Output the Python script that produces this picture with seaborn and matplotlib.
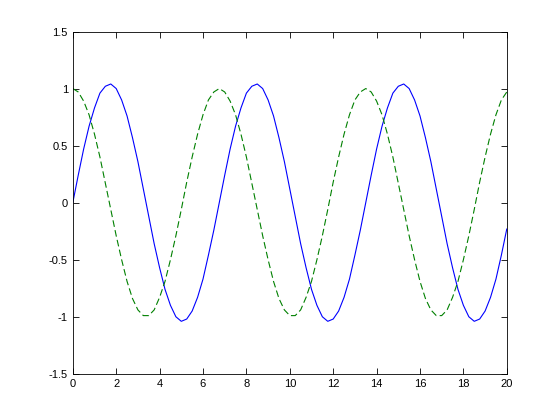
import numpy as np
import pandas as pd
import matplotlib
matplotlib.use("Agg")
import matplotlib.pyplot as plt
import seaborn as sns

# sample positions (step 0.25 from 0 to 20)
t = [i * 0.25 for i in range(81)]

# solid blue series
y_sin = [0.00, 0.24, 0.47, 0.67, 0.83, 0.96, 1.02, 1.04, 1.00, 0.90, 0.76, 0.57, 0.36, 0.12,
         -0.12, -0.36, -0.57, -0.76, -0.90, -1.00, -1.04, -1.02, -0.95, -0.83, -0.67, -0.46, -0.24,
         0.00, 0.24, 0.47, 0.67, 0.83, 0.96, 1.02, 1.04, 1.00, 0.90, 0.76, 0.57, 0.36, 0.12,
         -0.12, -0.36, -0.57, -0.76, -0.90, -1.00, -1.04, -1.02, -0.95, -0.83, -0.67, -0.46, -0.24,
         0.00, 0.24, 0.47, 0.67, 0.83, 0.96, 1.02, 1.04, 1.00, 0.90, 0.76, 0.57, 0.36, 0.12,
         -0.12, -0.36, -0.57, -0.76, -0.90, -1.00, -1.04, -1.02, -0.95, -0.83, -0.67, -0.46, -0.23]

# dashed green series
y_cos = [1.00, 0.97, 0.89, 0.77, 0.60, 0.40, 0.17, -0.06, -0.29, -0.50, -0.69, -0.84, -0.94, -0.99,
         -0.99, -0.94, -0.83, -0.69, -0.50, -0.29, -0.06, 0.18, 0.40, 0.60, 0.77, 0.90, 0.97,
         1.00, 0.97, 0.89, 0.77, 0.60, 0.40, 0.17, -0.06, -0.29, -0.50, -0.69, -0.84, -0.94, -0.99,
         -0.99, -0.94, -0.83, -0.69, -0.50, -0.29, -0.06, 0.18, 0.40, 0.60, 0.77, 0.90, 0.97,
         1.00, 0.97, 0.89, 0.77, 0.60, 0.40, 0.17, -0.06, -0.29, -0.50, -0.69, -0.84, -0.94, -0.99,
         -0.99, -0.94, -0.83, -0.69, -0.50, -0.29, -0.06, 0.18, 0.40, 0.60, 0.77, 0.90, 0.97]

x_ticks = [0, 2, 4, 6, 8, 10, 12, 14, 16, 18, 20]
y_ticks = [-1.5, -1, -0.5, 0, 0.5, 1, 1.5]
y_tick_labels = ["-1.5", "-1", "-0.5", "0", "0.5", "1", "1.5"]

sns.set_style("ticks")
plt.rcParams["font.family"] = ["Liberation Sans", "DejaVu Sans"]
plt.rcParams["axes.unicode_minus"] = False

df = pd.DataFrame({"t": t, "sin": y_sin, "cos": y_cos})

fig = plt.figure(figsize=(5.6, 4.2), dpi=100)
ax = fig.add_axes([0.13, 0.11, 0.775, 0.815])

sns.lineplot(data=df, x="t", y="sin", ax=ax, color=(0, 0, 1), linewidth=0.8)
sns.lineplot(data=df, x="t", y="cos", ax=ax, color=(0, 0.5, 0), linewidth=0.8,
             linestyle=(0, (6, 3)))

ax.set_xlim(0, 20)
ax.set_ylim(-1.5, 1.5)
ax.set_xticks(x_ticks)
ax.set_xticklabels([str(v) for v in x_ticks])
ax.set_yticks(y_ticks)
ax.set_yticklabels(y_tick_labels)
ax.set_xlabel("")
ax.set_ylabel("")
ax.tick_params(direction="in", top=True, right=True, length=4, width=0.6,
               labelsize=8, colors="black")
for s in ax.spines.values():
    s.set_visible(True)
    s.set_linewidth(0.6)
    s.set_color("black")

fig.savefig("out.png", dpi=100)
